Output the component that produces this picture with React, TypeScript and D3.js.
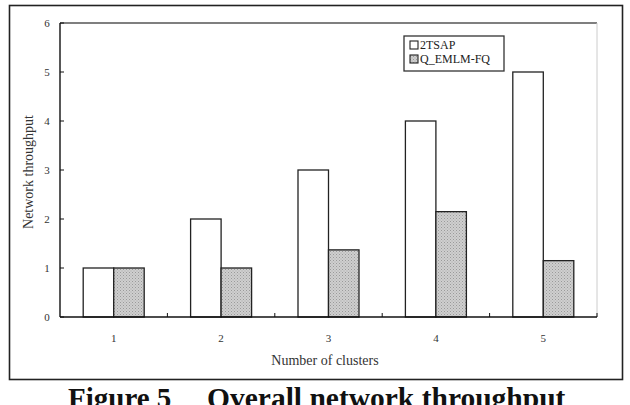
import React from 'react';
import * as d3 from 'd3';

const clusters = ['1', '2', '3', '4', '5'];
const tsap = [1, 2, 3, 4, 5];
const emlm = [1, 1, 1.37, 2.15, 1.15];
const seriesNames = ['2TSAP', 'Q_EMLM-FQ'];
const yTicks = [0, 1, 2, 3, 4, 5, 6];

const W = 630;
const H = 405;
const margin = { top: 23, right: 33, bottom: 88, left: 60 };
const font = '"Liberation Serif", "Times New Roman", serif';

const App: React.FC = () => {
  const innerW = W - margin.left - margin.right;
  const innerH = H - margin.top - margin.bottom;

  const x = d3.scaleBand().domain(clusters).range([0, innerW]);
  const barW = 30.5;
  const y = d3.scaleLinear().domain([0, 6]).range([innerH, 0]);

  return (
    <svg
      width={W}
      height={H}
      style={{ position: 'absolute', left: 0, top: 0, background: '#fff' }}
      fontFamily={font}
    >
      <defs>
        <pattern id="stipple" width="3" height="3" patternUnits="userSpaceOnUse">
          <rect width="3" height="3" fill="#cfcfcf" />
          <rect x="0" y="0" width="1" height="1" fill="#9a9a9a" />
          <rect x="1.5" y="1.5" width="1" height="1" fill="#a8a8a8" />
        </pattern>
      </defs>

      {/* outer frame */}
      <rect x={9.5} y={5.5} width={613} height={374} fill="none" stroke="#222" strokeWidth={1.6} />

      <g transform={`translate(${margin.left},${margin.top})`}>
        {/* plot frame: top dark, right light */}
        <line x1={0} x2={innerW} y1={0} y2={0} stroke="#555" strokeWidth={1.4} />
        <line x1={innerW} x2={innerW} y1={0} y2={innerH} stroke="#ccc" strokeWidth={1} />

        {/* bars */}
        {clusters.map((c, i) => {
          const cx = x(c)! + x.bandwidth() / 2;
          return (
            <g key={c}>
              <rect
                x={cx - barW}
                y={y(tsap[i])}
                width={barW}
                height={innerH - y(tsap[i])}
                fill="#fff"
                stroke="#222"
                strokeWidth={1.3}
              />
              <rect
                x={cx}
                y={y(emlm[i])}
                width={barW}
                height={innerH - y(emlm[i])}
                fill="url(#stipple)"
                stroke="#222"
                strokeWidth={1.3}
              />
            </g>
          );
        })}

        {/* y axis */}
        <line x1={0} x2={0} y1={0} y2={innerH} stroke="#111" strokeWidth={1.4} />
        {yTicks.map((t) => (
          <g key={t} transform={`translate(0,${y(t)})`}>
            <line x1={0} x2={4} stroke="#111" strokeWidth={1} />
            <text x={-13} dy="0.35em" textAnchor="middle" fontSize={11} fill="#333">
              {t}
            </text>
          </g>
        ))}

        {/* x axis */}
        <line x1={0} x2={innerW} y1={innerH} y2={innerH} stroke="#111" strokeWidth={1.6} />
        {clusters.map((c) => (
          <line
            key={'t' + c}
            x1={x(c)! + x.bandwidth()}
            x2={x(c)! + x.bandwidth()}
            y1={innerH}
            y2={innerH - 4}
            stroke="#111"
            strokeWidth={1}
          />
        ))}
        {clusters.map((c) => (
          <text
            key={'l' + c}
            x={x(c)! + x.bandwidth() / 2}
            y={innerH + 25}
            textAnchor="middle"
            fontSize={11}
            fill="#333"
          >
            {c}
          </text>
        ))}
        <text
          x={265}
          y={innerH + 48}
          textAnchor="middle"
          fontSize={14}
          fill="#333"
        >
          Number of clusters
        </text>
        <text
          transform={`translate(-27,${y(3) + 2}) rotate(-90)`}
          textAnchor="middle"
          fontSize={14}
          fill="#333"
        >
          Network throughput
        </text>

        {/* legend */}
        <g transform="translate(344,13)">
          <rect x={0} y={0} width={100} height={35} fill="#fff" stroke="#333" strokeWidth={1.3} />
          {seriesNames.map((s, i) => (
            <g key={s} transform={`translate(6,${9 + i * 14})`}>
              <rect
                x={0}
                y={-4}
                width={8}
                height={8}
                fill={i === 0 ? '#fff' : 'url(#stipple)'}
                stroke="#222"
                strokeWidth={1.1}
              />
              <text x={10} dy="0.35em" fontSize={12} fill="#222">
                {s}
              </text>
            </g>
          ))}
        </g>
      </g>

      {/* caption */}
      <text x={68} y={408} fontSize={29} fontWeight="bold" fill="#111">
        Figure 5
      </text>
      <text x={207} y={408} fontSize={29.5} fontWeight="bold" fill="#111">
        Overall network throughput
      </text>
    </svg>
  );
};

export default App;
